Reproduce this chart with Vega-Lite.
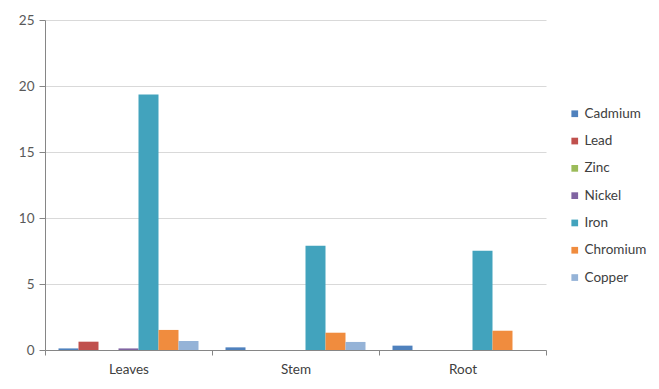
{
  "$schema": "https://vega.github.io/schema/vega-lite/v6.json",
  "width": 501,
  "height": 330,
  "autosize": {"type": "none"},
  "padding": {"left": 45, "top": 20, "right": 113, "bottom": 39},
  "background": "white",
  "config": {
    "font": "Lato",
    "view": {"stroke": null}
  },
  "data": {
    "values": [
      {"part": "Leaves", "metal": "Cadmium", "value": 0.12},
      {"part": "Leaves", "metal": "Lead", "value": 0.63},
      {"part": "Leaves", "metal": "Zinc", "value": 0},
      {"part": "Leaves", "metal": "Nickel", "value": 0.12},
      {"part": "Leaves", "metal": "Iron", "value": 19.35},
      {"part": "Leaves", "metal": "Chromium", "value": 1.52},
      {"part": "Leaves", "metal": "Copper", "value": 0.68},
      {"part": "Stem", "metal": "Cadmium", "value": 0.2},
      {"part": "Stem", "metal": "Lead", "value": 0},
      {"part": "Stem", "metal": "Zinc", "value": 0},
      {"part": "Stem", "metal": "Nickel", "value": 0},
      {"part": "Stem", "metal": "Iron", "value": 7.89},
      {"part": "Stem", "metal": "Chromium", "value": 1.31},
      {"part": "Stem", "metal": "Copper", "value": 0.61},
      {"part": "Root", "metal": "Cadmium", "value": 0.33},
      {"part": "Root", "metal": "Lead", "value": 0},
      {"part": "Root", "metal": "Zinc", "value": 0},
      {"part": "Root", "metal": "Nickel", "value": 0},
      {"part": "Root", "metal": "Iron", "value": 7.51},
      {"part": "Root", "metal": "Chromium", "value": 1.46},
      {"part": "Root", "metal": "Copper", "value": 0}
    ]
  },
  "mark": {"type": "bar"},
  "encoding": {
    "x": {
      "field": "part",
      "type": "nominal",
      "sort": ["Leaves", "Stem", "Root"],
      "scale": {"paddingInner": 0, "paddingOuter": 0},
      "axis": {
        "title": null,
        "labelAngle": 0,
        "tickBand": "extent",
        "grid": false,
        "domainColor": "#868686",
        "tickColor": "#868686",
        "tickSize": 5,
        "labelFontSize": 13.5,
        "labelColor": "#404040",
        "labelPadding": 7
      }
    },
    "xOffset": {
      "field": "metal",
      "type": "nominal",
      "sort": ["Cadmium", "Lead", "Zinc", "Nickel", "Iron", "Chromium", "Copper"],
      "scale": {"paddingInner": 0, "paddingOuter": 0.675}
    },
    "y": {
      "field": "value",
      "type": "quantitative",
      "scale": {"domain": [0, 25], "nice": false},
      "axis": {
        "title": null,
        "values": [0, 5, 10, 15, 20, 25],
        "gridColor": "#D9D9D9",
        "domainColor": "#868686",
        "tickColor": "#868686",
        "tickSize": 6,
        "labelFontSize": 13.5,
        "labelColor": "#595959",
        "labelPadding": 5
      }
    },
    "color": {
      "field": "metal",
      "type": "nominal",
      "scale": {
        "domain": ["Cadmium", "Lead", "Zinc", "Nickel", "Iron", "Chromium", "Copper"],
        "range": ["#4F81BD", "#C0504D", "#9BBB59", "#8064A2", "#42A3BD", "#F08C3E", "#95B3D7"]
      },
      "legend": {
        "title": null,
        "orient": "none",
        "legendX": 523,
        "legendY": 87,
        "padding": 0,
        "symbolType": "square",
        "symbolSize": 45,
        "symbolStrokeWidth": 0,
        "labelFontSize": 13.5,
        "labelColor": "#404040",
        "labelOffset": 3,
        "rowPadding": 12.3
      }
    }
  }
}
